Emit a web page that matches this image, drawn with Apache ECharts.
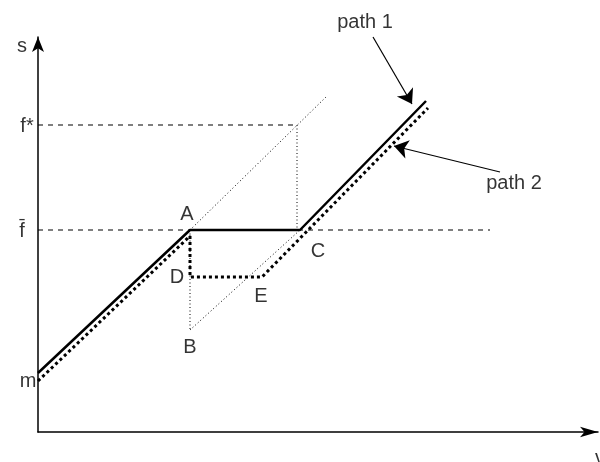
<!DOCTYPE html>
<html>
<head>
<meta charset="utf-8">
<script src="https://cdn.jsdelivr.net/npm/echarts@6/dist/echarts.min.js"></script>
<style>
  html, body { margin: 0; padding: 0; background: #fff; }
  #chart { width: 600px; height: 462px; }
</style>
</head>
<body>
<div id="chart"></div>
<script>
// schematic values, 1 unit = 10px on both axes
const path1X = [0, 15.2, 26.2, 38.8]
const path1Y = [5.9, 20.2, 20.2, 33.1]
const path2X = [0, 15.2, 15.2, 22.4, 39.0]
const path2Y = [5.1, 19.6, 15.5, 15.5, 32.4]

const fBar = 20.2
const fStar = 30.7
const fStarX = 25.9
const fBarEndX = 45.2

// thin dotted construction lines
const pointA = [15.2, 20.2]
const pointB = [15.2, 10.2]
const pointC = [26.2, 20.2]
const diagEnd = [28.8, 33.5]

// arrows pointing at the two paths
const arrow1 = [[33.5, 39.5], [37.4, 32.8]]
const arrow2 = [[46.2, 26.0], [35.6, 28.6]]

const labelNames = ['s', 'f*', 'f\u0304', 'm', 'A', 'B', 'C', 'D', 'E', 'v', 'path 1', 'path 2']
const labelX = [-1.6, -1.1, -1.6, -1.0, 14.9, 15.2, 28.0, 13.9, 22.3, 56.2, 32.7, 47.6]
const labelY = [38.6, 30.6, 20.1, 5.1, 21.8, 8.5, 18.1, 15.5, 13.6, -2.6, 41.0, 24.9]

const zip = (xs, ys) => xs.map((x, i) => [x, ys[i]])

const chart = echarts.init(document.getElementById('chart'))

const thinDot = { color: '#000', width: 1, type: [1, 2.5] }
const thinDash = { color: '#000', width: 1, type: [5, 5] }

function seg(name, data, lineStyle) {
  return {
    name: name,
    type: 'line',
    data: data,
    showSymbol: false,
    silent: true,
    clip: false,
    lineStyle: lineStyle
  }
}

chart.setOption({
  animation: false,
  backgroundColor: '#fff',
  textStyle: { fontFamily: 'Liberation Sans, Arial, sans-serif' },
  grid: { left: 38, right: 2, top: 37, bottom: 30 },
  xAxis: {
    type: 'value',
    min: 0,
    max: 56.0,
    splitLine: { show: false },
    axisTick: { show: false },
    axisLabel: { show: false },
    axisLine: {
      onZero: false,
      symbol: ['none', 'arrow'],
      symbolSize: [8, 18],
      lineStyle: { color: '#000', width: 1.5 }
    }
  },
  yAxis: {
    type: 'value',
    min: 0,
    max: 39.5,
    splitLine: { show: false },
    axisTick: { show: false },
    axisLabel: { show: false },
    axisLine: {
      show: true,
      onZero: false,
      symbol: ['none', 'arrow'],
      symbolSize: [9, 15],
      lineStyle: { color: '#000', width: 1.5 }
    }
  },
  series: [
    seg('fstar', [[0, fStar], [fStarX, fStar]], thinDash),
    seg('fbar', [[0, fBar], [fBarEndX, fBar]], thinDash),
    seg('diag', [pointA, diagEnd], thinDot),
    seg('vert', [[fStarX, fStar], [fStarX, fBar]], thinDot),
    seg('AB', [pointA, pointB], thinDot),
    seg('BC', [pointB, pointC], thinDot),
    seg('path 2', zip(path2X, path2Y), { color: '#000', width: 3, type: [3, 3] }),
    seg('path 1', zip(path1X, path1Y), { color: '#000', width: 2.5, type: 'solid' }),
    {
      type: 'lines',
      coordinateSystem: 'cartesian2d',
      silent: true,
      clip: false,
      symbol: ['none', 'arrow'],
      symbolSize: [9, 14],
      lineStyle: { color: '#000', width: 1.2, opacity: 1 },
      data: [{ coords: arrow1 }, { coords: arrow2 }]
    },
    {
      type: 'scatter',
      silent: true,
      clip: false,
      symbolSize: 0,
      data: labelNames.map((n, i) => ({ name: n, value: [labelX[i], labelY[i]] })),
      label: {
        show: true,
        position: 'inside',
        formatter: p => p.name,
        color: '#000',
        fontSize: 20,
        fontFamily: 'Liberation Sans, Arial, sans-serif'
      }
    }
  ]
})
</script>
</body>
</html>
